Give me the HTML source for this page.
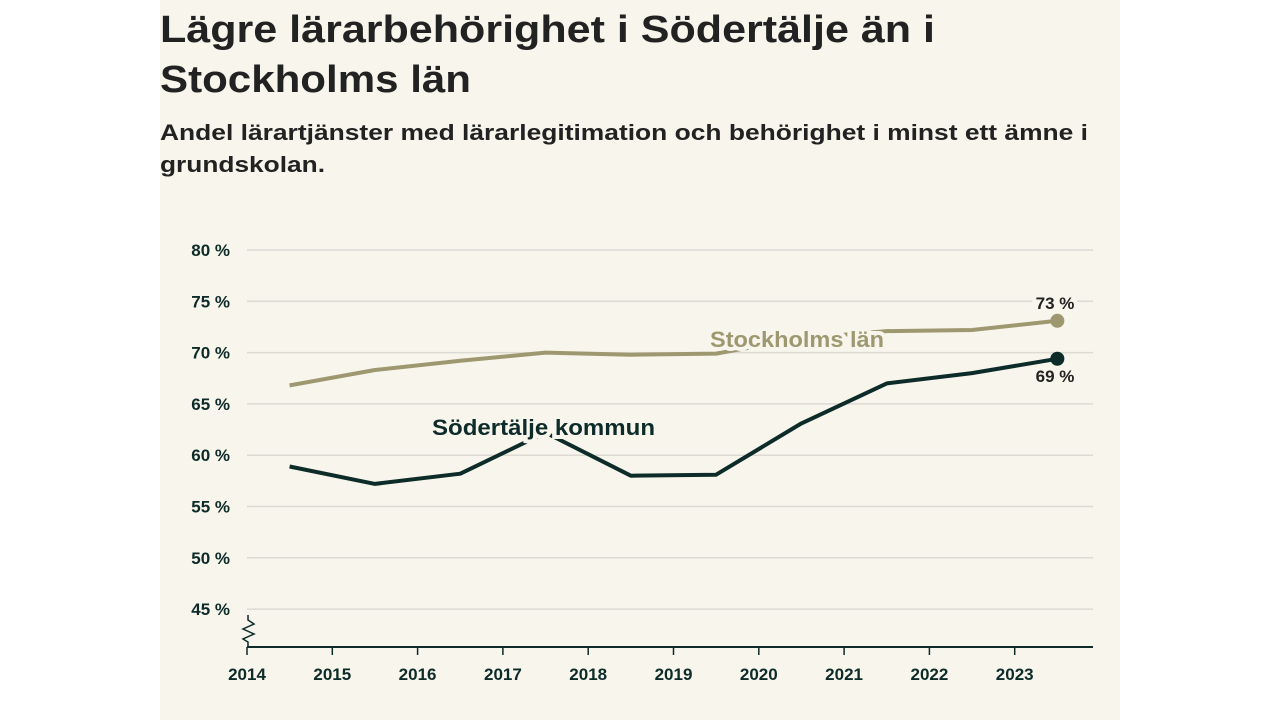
<!DOCTYPE html>
<html><head><meta charset="utf-8"><style>
html,body{margin:0;padding:0;background:#fff;width:1280px;height:720px;overflow:hidden}
#panel{position:absolute;left:160px;top:0;width:960px;height:720px;background:#f7f5ec}
svg text{font-family:"Liberation Sans",sans-serif}
</style></head><body>
<div id="panel"></div>
<svg width="1280" height="720" style="position:absolute;left:0;top:0">
<text x="160" y="42" font-size="38" font-weight="bold" fill="#222" textLength="775" lengthAdjust="spacingAndGlyphs">Lägre lärarbehörighet i Södertälje än i</text>
<text x="160" y="92" font-size="38" font-weight="bold" fill="#222" textLength="311" lengthAdjust="spacingAndGlyphs">Stockholms län</text>
<text x="160" y="140" font-size="22" font-weight="bold" fill="#222" textLength="928" lengthAdjust="spacingAndGlyphs">Andel lärartjänster med lärarlegitimation och behörighet i minst ett ämne i</text>
<text x="160" y="172" font-size="22" font-weight="bold" fill="#222" textLength="165" lengthAdjust="spacingAndGlyphs">grundskolan.</text>
<g id="grid"></g><g id="xaxis"></g><g id="lines"></g>
</svg>
<script>
const yTicks=[45,50,55,60,65,70,75,80];
const xYears=[2014,2015,2016,2017,2018,2019,2020,2021,2022,2023];
const pointYears=[2014.5,2015.5,2016.5,2017.5,2018.5,2019.5,2020.5,2021.5,2022.5,2023.5];
const stockholm=[66.8,68.3,69.2,70.0,69.8,69.9,71.4,72.1,72.2,73.1];
const sodertalje=[58.9,57.2,58.2,62.2,58.0,58.1,63.1,67.0,68.0,69.4];
const endLabels=['73 %','69 %'];
const NS="http://www.w3.org/2000/svg";
const y=v=>250+(80-v)*10.26;
const x=t=>247+(t-2014)*85.3;
function mk(tag,attrs,parent,text){const e=document.createElementNS(NS,tag);for(const k in attrs)e.setAttribute(k,attrs[k]);if(text!==undefined)e.textContent=text;document.getElementById(parent).appendChild(e);return e;}
yTicks.forEach(v=>{
 const l=mk('line',{x1:247,x2:1093,y1:y(v),y2:y(v),stroke:'#dcdad3','stroke-width':1.5},'grid');
 
 
 const t=mk('text',{x:230,y:y(v)+6,'text-anchor':'end','font-size':17,'font-weight':'bold',fill:'#0d2b28'},'grid',v+' %');
 
 
});
const ax=mk('line',{x1:247,x2:1093,y1:647,y2:647,stroke:'#0d2b28','stroke-width':2},'xaxis');


const zz=mk('path',{d:'M248 615 L248 620 L254 624 L243 629 L254 634 L243 639 L248 642 L248 647',fill:'none',stroke:'#0d2b28','stroke-width':1.5},'xaxis');


xYears.forEach(yr=>{
 const tk=mk('line',{x1:x(yr),x2:x(yr),y1:647,y2:655,stroke:'#0d2b28','stroke-width':1.5},'xaxis');
 
 
 const t=mk('text',{x:x(yr),y:680,'text-anchor':'middle','font-size':17,'font-weight':'bold',fill:'#0d2b28'},'xaxis',String(yr));
 
 
});
function series(vals,color,name){
 const d=vals.map((v,i)=>(i?'L':'M')+x(pointYears[i]).toFixed(1)+' '+y(v).toFixed(1)).join(' ');
 const p=mk('path',{d:d,fill:'none',stroke:color,'stroke-width':4,'stroke-linejoin':'round'},'lines');
 
 
 const n=vals.length-1;
 const c=mk('circle',{cx:x(pointYears[n]),cy:y(vals[n]),r:7,fill:color},'lines');
 
 
}
series(stockholm,'#9e9870','stockholm');
series(sodertalje,'#0d2b28','sodertalje');
function lab(tx,px,py,color,size,name,anchor,len){
 const a={x:px,y:py,'font-size':size,'font-weight':'bold',fill:color,stroke:'#f7f5ec','stroke-width':8,'paint-order':'stroke','text-anchor':anchor||'start'};
 if(len){a.textLength=len;a.lengthAdjust='spacingAndGlyphs';}
 const t=mk('text',a,'lines',tx);
 
 
}
lab('Stockholms län',710,347,'#9e9870',22,'stockholm-label','start',174);
lab('Södertälje kommun',432,435,'#0d2b28',22,'sodertalje-label','start',223);
const ls=stockholm.length-1, ld=sodertalje.length-1;
lab(endLabels[0],1055,y(stockholm[ls])-12,'#222',17,'stockholm-value','middle');
lab(endLabels[1],1055,y(sodertalje[ld])+23,'#222',17,'sodertalje-value','middle');
</script>
</body></html>
